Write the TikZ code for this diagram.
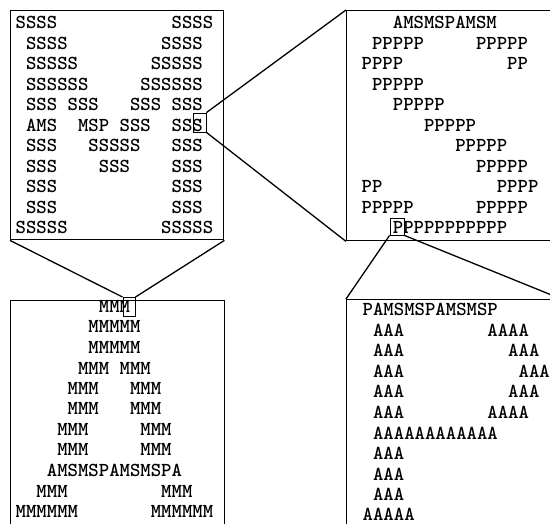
\documentclass[tikz,border=0pt]{standalone}
\usepackage{tikz}
\usepackage{xcolor}
\usepackage{fontspec}
\newfontfamily\typerfont{lmmonolt10-bold.otf}

\begin{document}
\begin{tikzpicture}[x=1pt, y=-1pt,
		frame/.style={draw, line width=1.4pt, anchor=north west, inner sep=0pt,
			minimum width=214pt, minimum height=230pt},
		bit/.style={draw, line width=0.9pt, inner sep=0pt},
		row/.style={anchor=base west, inner sep=0pt,
			font=\typerfont\fontsize{19.8}{20.5}\selectfont},
		zoomline/.style={line width=1.3pt}]
	\useasboundingbox (0,0) rectangle (550,524);
	\clip (0,0) rectangle (550,524);
	% frames
	\node[frame, minimum width=213pt, minimum height=229pt] (Sframe) at (10,10) {};
	\node[frame] (Pframe) at (346,10) {};
	\node[frame] (Mframe) at (10,300) {};
	\node[frame] (Aframe) at (346,299) {};
	% S letters
	\foreach \txt [count=\i] in {SSSS~~~~~~~~~~~SSSS, ~SSSS~~~~~~~~~SSSS, ~SSSSS~~~~~~~SSSSS,
			~SSSSSS~~~~~SSSSSS, ~SSS~SSS~~~SSS~SSS, ~AMS~~MSP~SSS~~SSS, ~SSS~~~SSSSS~~~SSS,
			~SSS~~~~SSS~~~~SSS, ~SSS~~~~~~~~~~~SSS, ~SSS~~~~~~~~~~~SSS, SSSSS~~~~~~~~~SSSSS}
		\node[row] (S\i) at (15.5, 8.5+20.5*\i) {\txt};
	% P letters
	\foreach \txt [count=\i] in {~~~AMSMSPAMSM, ~PPPPP~~~~~PPPPP, PPPP~~~~~~~~~~PP, ~PPPPP,
			~~~PPPPP, ~~~~~~PPPPP, ~~~~~~~~~PPPPP, ~~~~~~~~~~~PPPPP, PP~~~~~~~~~~~PPPP,
			PPPPP~~~~~~PPPPP, ~~~PPPPPPPPPPP}
		\node[row] (P\i) at (361.5, 8.5+20.5*\i) {\txt};
	% M letters
	\foreach \txt [count=\i] in {~~~~~~~~MMM, ~~~~~~~MMMMM, ~~~~~~~MMMMM, ~~~~~~MMM~MMM,
			~~~~~MMM~~~MMM, ~~~~~MMM~~~MMM, ~~~~MMM~~~~~MMM, ~~~~MMM~~~~~MMM,
			~~~AMSMSPAMSMSPA, ~~MMM~~~~~~~~~MMM, MMMMMM~~~~~~~MMMMMM}
		\node[row] (M\i) at (15.5, 292+20.5*\i) {\txt};
	% A letters
	\foreach \txt [count=\i] in {PAMSMSPAMSMSP, ~AAA~~~~~~~~AAAA, ~AAA~~~~~~~~~~AAA,
			~AAA~~~~~~~~~~~AAA, ~AAA~~~~~~~~~~AAA, ~AAA~~~~~~~~AAAA, ~AAAAAAAAAAAA,
			~AAA, ~AAA, ~AAA, AAAAA}
		\node[row] (A\i) at (362.5, 295.5+20.5*\i) {\txt};
	% marked letters
	\node[bit, minimum width=13pt, minimum height=19pt] (Sbit) at (199.5,122.5) {};
	\node[bit, minimum width=14pt, minimum height=17pt] (Pbit) at (397,226.5) {};
	\node[bit, minimum width=12pt, minimum height=19pt] (Mbit) at (129,307) {};
	% zoom lines
	\draw[zoomline] (Sbit.north east) -- (Pframe.north west);
	\draw[zoomline] (Sbit.south east) -- (Pframe.south west);
	\draw[zoomline] (Sframe.south west) -- (Mbit.north west);
	\draw[zoomline] (Sframe.south east) -- (Mbit.north east);
	\draw[zoomline] (Pbit.south west) -- (Aframe.north west);
	\draw[zoomline] (Pbit.south east) -- (Aframe.north east);
\end{tikzpicture}
\end{document}
